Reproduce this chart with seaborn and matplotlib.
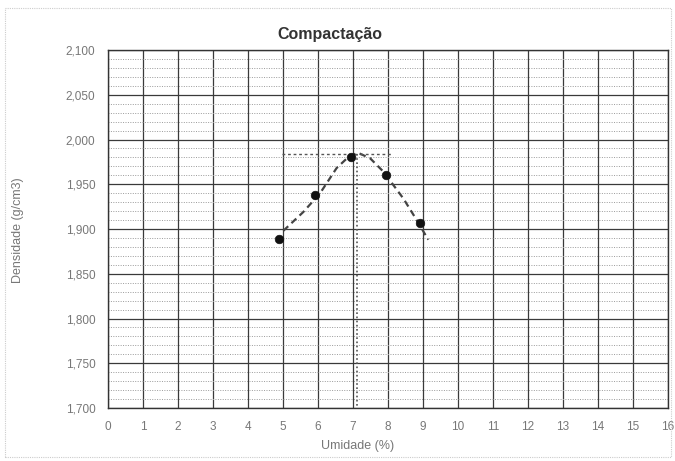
import numpy as np
import pandas as pd
import matplotlib
matplotlib.use("Agg")
import matplotlib.pyplot as plt
from matplotlib.ticker import MultipleLocator, FuncFormatter
from matplotlib.patches import Rectangle
import seaborn as sns

# measured points
umidade = [4.89, 5.92, 6.94, 7.93, 8.91]
densidade = [1.889, 1.938, 1.981, 1.960, 1.907]

# dashed trend curve
curva_x = [5.01, 5.58, 6.06, 6.53, 6.91, 7.15, 7.49, 7.87, 8.44, 8.82, 9.15]
curva_y = [1.898, 1.919, 1.940, 1.968, 1.982, 1.985, 1.979, 1.964, 1.934, 1.910, 1.888]

# optimum markers
otimo_x = [4.96, 8.14]
otimo_y = [1.984, 1.984]
vert_x = [7.12, 7.12]
vert_y = [1.984, 1.700]

x_ticks = list(range(0, 17))
y_ticks = [1.70, 1.75, 1.80, 1.85, 1.90, 1.95, 2.00, 2.05, 2.10]

sns.set_style("white")
plt.rcParams['font.family'] = ['Liberation Sans', 'DejaVu Sans']

fig = plt.figure(figsize=(6.75, 4.61), dpi=100)
ax = fig.add_axes([108 / 675, 1 - 408 / 461, 560 / 675, 358 / 461])

df_pts = pd.DataFrame({'x': umidade, 'y': densidade})
df_curve = pd.DataFrame({'x': curva_x, 'y': curva_y})

# grid
ax.set_xlim(0, 16)
ax.set_ylim(1.70, 2.10)
ax.set_xticks(x_ticks)
ax.set_yticks(y_ticks)
ax.yaxis.set_minor_locator(MultipleLocator(0.01))
ax.grid(which='major', color='#3a3a3a', linewidth=0.9)
ax.grid(which='minor', axis='y', color='#9a9a9a', linewidth=0.7, linestyle=(0, (1, 1.5)))
ax.set_axisbelow(True)

sns.lineplot(data=df_curve, x='x', y='y', ax=ax, color='#444444',
             linewidth=1.6, linestyle=(0, (3, 2)), sort=False)
ax.plot(otimo_x, otimo_y, color='#555555', linewidth=1.0, linestyle=(0, (2, 2)))
ax.plot(vert_x, vert_y, color='#555555', linewidth=1.2, linestyle=(0, (1, 1.5)))
sns.scatterplot(data=df_pts, x='x', y='y', ax=ax, color='#111111', s=38,
                edgecolor='#111111', zorder=5)

ax.yaxis.set_major_formatter(FuncFormatter(lambda v, p: f"{v:.3f}".replace('.', ',')))
ax.tick_params(axis='both', which='both', length=0, labelsize=8.5,
               labelcolor='#777777', pad=9)
for s in ax.spines.values():
    s.set_color('#333333')
    s.set_linewidth(1.0)

ax.set_xlabel('')
ax.set_ylabel('')
fig.text(330 / 675, 1 - 35 / 461, 'Compactação', ha='center', va='center',
         fontsize=11.5, fontweight='bold', color='#333333')
fig.text(358 / 675, 1 - 446 / 461, 'Umidade (%)', ha='center', va='center',
         fontsize=9, color='#777777')
fig.text(18 / 675, 1 - 230 / 461, 'Densidade (g/cm3)', ha='center', va='center',
         rotation=90, fontsize=9, color='#777777')

# faint outer frame of the chart object
fig.patches.append(Rectangle((5 / 675, 4 / 461), 666 / 675, 449 / 461,
                             transform=fig.transFigure, fill=False,
                             edgecolor='#cccccc', linewidth=0.8, linestyle=(0, (1, 1))))

fig.savefig('out.png', dpi=100)
